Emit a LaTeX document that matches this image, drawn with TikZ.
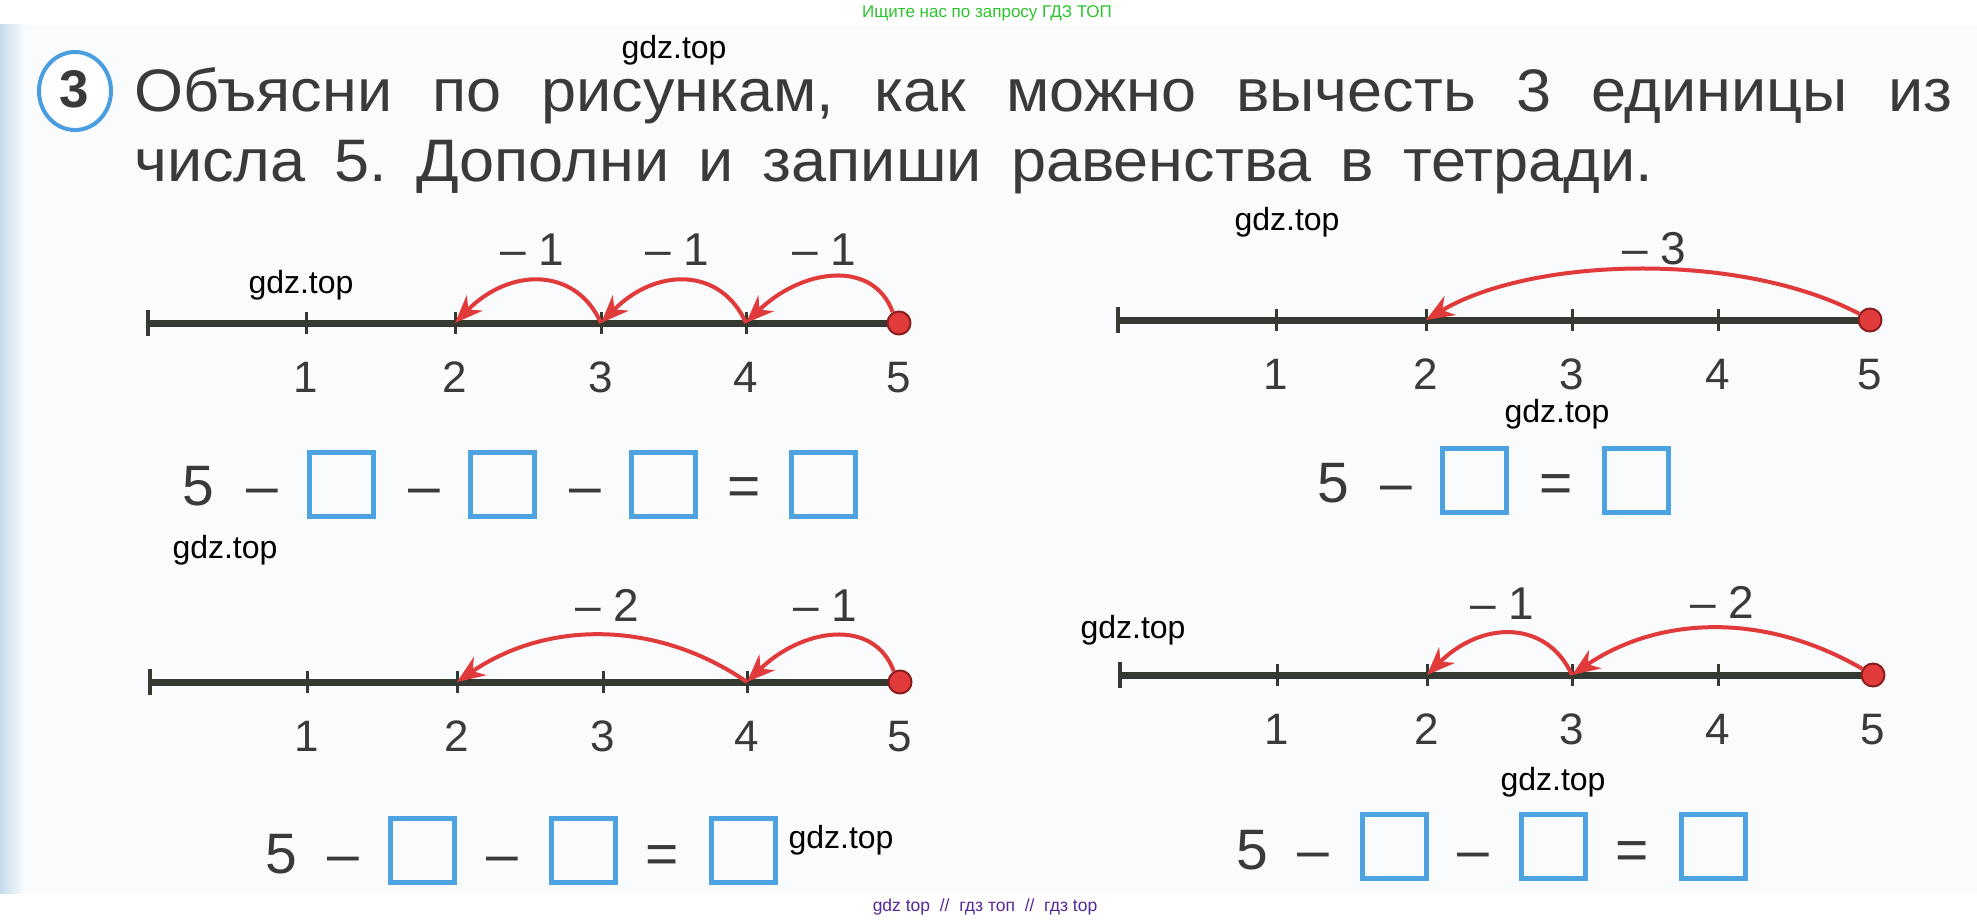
\documentclass[tikz,border=0pt]{standalone}
\usepackage{fontspec}
\setmainfont{Liberation Sans}
\newfontfamily\titlefont[FakeStretch=1.05]{Liberation Sans}
\usetikzlibrary{arrows.meta,calc,shapes.geometric}
\frenchspacing

\definecolor{ink}{HTML}{3A3A3A}
\definecolor{axis}{HTML}{343A32}
\definecolor{arcred}{HTML}{E03A3A}
\definecolor{dotred}{HTML}{E23B3B}
\definecolor{dotedge}{HTML}{8A1E1E}
\definecolor{boxblue}{HTML}{4DA2E2}
\definecolor{circblue}{HTML}{4A9DE0}
\definecolor{hdrgreen}{HTML}{2DC42D}
\definecolor{ftrpurple}{HTML}{55289A}
\definecolor{pagebg}{HTML}{FAFBFC}
\definecolor{stripe}{HTML}{C6DBEF}

\tikzset{
  numaxis/.style={draw=axis, line width=7pt},
  endtick/.style={draw=axis, line width=3.5pt},
  smalltick/.style={draw=axis, line width=3pt},
  numlab/.style={inner sep=0pt, anchor=base, font=\fontsize{44}{50}\selectfont, text=ink},
  jumplab/.style={inner sep=0pt, anchor=base, font=\fontsize{46}{50}\selectfont, text=ink},
  reddot/.style={circle, fill=dotred, draw=dotedge, line width=2pt, minimum size=23pt, inner sep=0pt},
  jumparrow/.style={draw=arcred, line width=4pt, -{Stealth[length=28pt,width=22pt,inset=9pt]}},
  eqtext/.style={inner sep=0pt, anchor=base, font=\fontsize{57}{60}\selectfont, text=ink},
  ansbox/.style={draw=boxblue, line width=5pt, minimum width=64pt, minimum height=64pt, inner sep=0pt},
  wmark/.style={inner sep=0pt, font=\fontsize{32}{34}\selectfont, text=black},
  titletext/.style={anchor=base west, inner sep=0pt, font=\titlefont\fontsize{60}{70}\selectfont, text=ink},
}

\newcommand{\NumLine}[8]{%
  \coordinate (#1-0) at (#2,#8);
  \coordinate (#1-1) at (#3,#8);
  \coordinate (#1-2) at (#4,#8);
  \coordinate (#1-3) at (#5,#8);
  \coordinate (#1-4) at (#6,#8);
  \coordinate (#1-5) at (#7,#8);
  \draw[numaxis] (#1-0) -- (#1-5);
  \draw[endtick] ($(#1-0)+(0,-13)$) -- ($(#1-0)+(0,13)$);
  \foreach \k in {1,...,4}{\draw[smalltick] ($(#1-\k)+(0,-11)$) -- ($(#1-\k)+(0,11)$);}
  \foreach \k in {1,...,5}{\node[numlab] (#1-lab\k) at ($(#1-\k)+(0,69)$) {\k};}
  \node[reddot] (#1-dot) at (#1-5) {};
}
\newcommand{\Jump}[5]{%
  \draw[jumparrow] (#1) .. controls ($(#1)+(-#4,-#3)$) and ($(#2)+(#5,-#3)$) .. (#2);
}

\begin{document}
\begin{tikzpicture}[x=1pt,y=-1pt]
\useasboundingbox (0,0) rectangle (1977,920);
\fill[white] (0,0) rectangle (1977,920);
\fill[pagebg] (0,25) rectangle (1977,893);
\shade[left color=stripe, right color=pagebg] (0,25) rectangle (24,893);

% header / footer
\node[anchor=base, inner sep=0pt, font=\fontsize{17}{20}\selectfont, text=hdrgreen] (hdr) at (987,18) {Ищите нас по запросу ГДЗ ТОП};
\node[anchor=base, inner sep=0pt, font=\fontsize{17.5}{20}\selectfont, text=ftrpurple] (ftr) at (985,911) {gdz top~~//~~гдз топ~~//~~гдз top};

% task number
\node[ellipse, draw=circblue, line width=4pt, fill=white, minimum width=72pt, minimum height=78pt, inner sep=0pt] (numcirc) at (75,91) {};
\node[inner sep=0pt, font=\bfseries\fontsize{53}{56}\selectfont, text=ink] (numthree) at (74,89) {3};

% title
\node[titletext] (title1) at (134,112) {\makebox[1818pt][s]{Объясни по рисункам, как можно вычесть 3 единицы из}};
\node[titletext] (title2) at (134,182) {\makebox[1519pt][s]{числа 5. Дополни и запиши равенства в тетради.}};

% number lines
\NumLine{TL}{148}{306}{455}{601}{746}{899}{323}
\NumLine{TR}{1118}{1276}{1426}{1572}{1718}{1870}{320}
\NumLine{BL}{150}{307}{457}{603}{747}{900}{682}
\NumLine{BR}{1120}{1277}{1427}{1572}{1718}{1873}{675}

% jumps
\Jump{TL-dot.120}{TL-4}{54}{20}{55}
\Jump{TL-4}{TL-3}{56}{25}{55}
\Jump{TL-3}{TL-2}{56}{25}{55}

\Jump{TR-dot.150}{TR-2}{63}{120}{105}

\Jump{BL-dot.120}{BL-4}{54}{20}{55}
\Jump{BL-4}{BL-2}{62}{90}{90}

\Jump{BR-dot.150}{BR-3}{58}{100}{85}
\Jump{BR-3}{BR-2}{55}{25}{55}

% jump labels
\node[jumplab] (TL-j1) at (532,265) {– 1};
\node[jumplab] (TL-j2) at (677,265) {– 1};
\node[jumplab] (TL-j3) at (824,265) {– 1};
\node[jumplab] (TR-j1) at (1654,264) {– 3};
\node[jumplab] (BL-j1) at (607,621) {– 2};
\node[jumplab] (BL-j2) at (825,621) {– 1};
\node[jumplab] (BR-j1) at (1502,619) {– 1};
\node[jumplab] (BR-j2) at (1722,618) {– 2};

% equations
\node[eqtext] (TL-e5) at (198,505) {5};
\node[eqtext] (TL-m1) at (262,505) {–};
\node[ansbox] (TL-b1) at (341,484) {};
\node[eqtext] (TL-m2) at (424,505) {–};
\node[ansbox] (TL-b2) at (502,484) {};
\node[eqtext] (TL-m3) at (585,505) {–};
\node[ansbox] (TL-b3) at (663,484) {};
\node[eqtext] (TL-eq) at (744,505) {=};
\node[ansbox] (TL-b4) at (823,484) {};

\node[eqtext] (TR-e5) at (1333,502) {5};
\node[eqtext] (TR-m1) at (1396,502) {–};
\node[ansbox] (TR-b1) at (1474.5,480) {};
\node[eqtext] (TR-eq) at (1556,502) {=};
\node[ansbox] (TR-b2) at (1636,480) {};

\node[eqtext] (BL-e5) at (281,873) {5};
\node[eqtext] (BL-m1) at (343,873) {–};
\node[ansbox] (BL-b1) at (422.5,850) {};
\node[eqtext] (BL-m2) at (502,873) {–};
\node[ansbox] (BL-b2) at (583.5,850) {};
\node[eqtext] (BL-eq) at (662,873) {=};
\node[ansbox] (BL-b3) at (743.5,850) {};

\node[eqtext] (BR-e5) at (1252,869) {5};
\node[eqtext] (BR-m1) at (1313,869) {–};
\node[ansbox] (BR-b1) at (1394.5,846) {};
\node[eqtext] (BR-m2) at (1473,869) {–};
\node[ansbox] (BR-b2) at (1553.5,846) {};
\node[eqtext] (BR-eq) at (1632,869) {=};
\node[ansbox] (BR-b3) at (1713,846) {};

% watermarks
\node[wmark] (wm1) at (674,50) {gdz.top};
\node[wmark] (wm2) at (301,285) {gdz.top};
\node[wmark] (wm3) at (1287,222) {gdz.top};
\node[wmark] (wm4) at (1557,414) {gdz.top};
\node[wmark] (wm5) at (225,550) {gdz.top};
\node[wmark] (wm6) at (1133,630) {gdz.top};
\node[wmark] (wm7) at (841,840) {gdz.top};
\node[wmark] (wm8) at (1553,782) {gdz.top};
\end{tikzpicture}
\end{document}
